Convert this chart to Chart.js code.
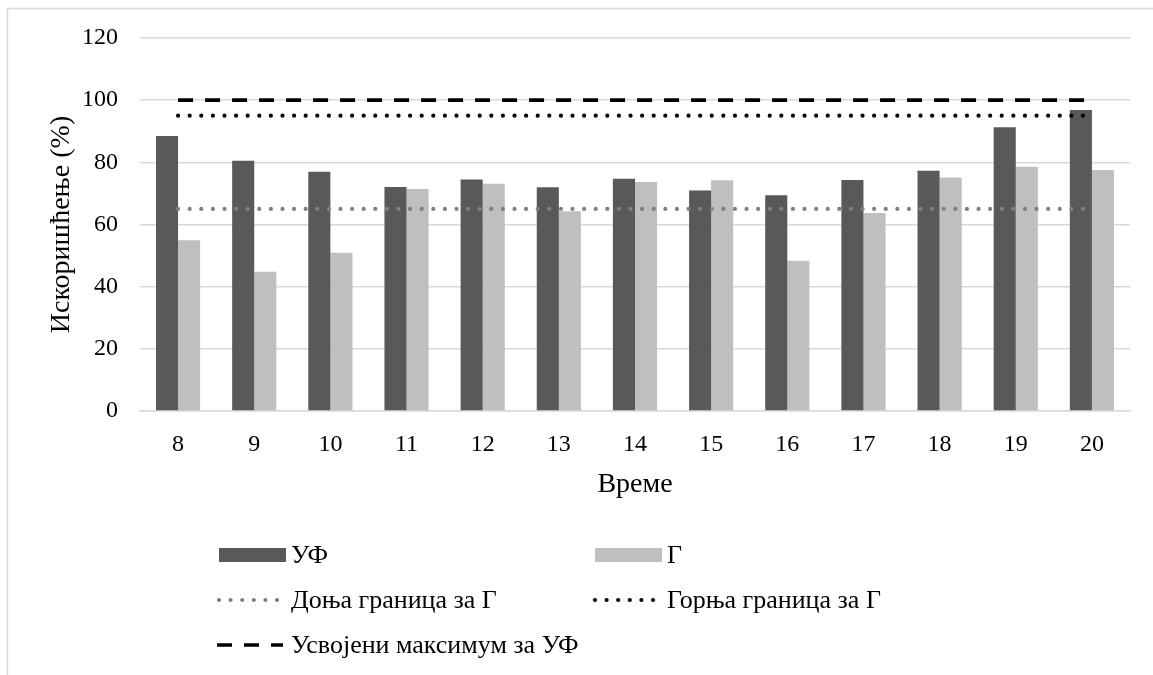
<!DOCTYPE html>
<html>
<head>
<meta charset="utf-8">
<script src="https://cdn.jsdelivr.net/npm/chart.js@4.4.1/dist/chart.umd.min.js"></script>
<style>
  html, body { margin: 0; padding: 0; background: #ffffff; }
  #wrap { position: relative; width: 1153px; height: 675px; overflow: hidden; }
  canvas { display: block; }
</style>
</head>
<body>
<div id="wrap"><canvas id="c" width="1153" height="675"></canvas></div>
<script>
// Hours of the day
const hours = ['8', '9', '10', '11', '12', '13', '14', '15', '16', '17', '18', '19', '20'];

// Utilisation (%) per hour
const ufValues = [88.5, 80.5, 77.0, 72.1, 74.5, 72.0, 74.7, 70.9, 69.4, 74.3, 77.3, 91.3, 96.8];
const gValues  = [54.9, 44.8, 50.9, 71.4, 73.1, 64.3, 73.7, 74.2, 48.3, 63.7, 75.1, 78.6, 77.5];

// Reference limits
const gLower = [65, 65, 65, 65, 65, 65, 65, 65, 65, 65, 65, 65, 65];
const gUpper = [95, 95, 95, 95, 95, 95, 95, 95, 95, 95, 95, 95, 95];
const ufMax  = [100, 100, 100, 100, 100, 100, 100, 100, 100, 100, 100, 100, 100];

const yTicks = [0, 20, 40, 60, 80, 100, 120];

const labels = {
  uf: 'УФ',
  g: 'Г',
  lower: 'Доња граница за Г',
  upper: 'Горња граница за Г',
  max: 'Усвојени максимум за УФ',
  x: 'Време',
  y: 'Искоришћење (%)'
};

const FONT = '"Liberation Serif", "Times New Roman", serif';
const FS_TICK = 24;
const FS_LEGEND = 26;
const FS_TITLE = 28;
const GRID = '#d9d9d9';

const dotStyle = { borderDash: [0.001, 11.6], borderCapStyle: 'round', borderWidth: 4.2 };

// Frame around the chart plus a two-column legend under the plot
const decorPlugin = {
  id: 'decor',
  beforeDraw(chart) {
    const ctx = chart.ctx;
    ctx.save();
    ctx.strokeStyle = GRID;
    ctx.lineWidth = 1.5;
    ctx.beginPath();
    ctx.moveTo(7.5, 675);
    ctx.lineTo(7.5, 8.5);
    ctx.lineTo(1153, 8.5);
    ctx.stroke();
    ctx.restore();
  },
  afterDraw(chart) {
    const ctx = chart.ctx;
    const ds = chart.data.datasets;
    const cols = [217, 593];
    const rows = [555, 600, 645];
    const place = [[0, 0], [1, 0], [0, 1], [1, 1], [0, 2]];
    ctx.save();
    ds.forEach((d, i) => {
      const [c, r] = place[i];
      const x = cols[c];
      const y = rows[r];
      if (d.type === 'bar') {
        ctx.fillStyle = d.backgroundColor;
        ctx.fillRect(x + 2, y - 7, 67, 14);
      } else {
        ctx.strokeStyle = d.borderColor;
        ctx.lineWidth = d.borderWidth;
        ctx.lineCap = d.borderCapStyle || 'butt';
        ctx.setLineDash(d.borderDash || []);
        ctx.beginPath();
        if (d.borderCapStyle === 'round') {
          ctx.moveTo(x + 2, y);
          ctx.lineTo(x + 62, y);
        } else {
          ctx.moveTo(x, y);
          ctx.lineTo(x + 66, y);
        }
        ctx.stroke();
        ctx.setLineDash([]);
      }
      ctx.fillStyle = '#000000';
      ctx.font = FS_LEGEND + 'px ' + FONT;
      ctx.textBaseline = 'middle';
      ctx.textAlign = 'left';
      ctx.fillText(d.label, x + 74, y + 1);
    });
    ctx.restore();
  }
};

new Chart(document.getElementById('c'), {
  data: {
    labels: hours,
    datasets: [
      { type: 'bar', label: labels.uf, data: ufValues, backgroundColor: '#595959', order: 2,
        categoryPercentage: 0.58, barPercentage: 1.0 },
      { type: 'bar', label: labels.g, data: gValues, backgroundColor: '#bfbfbf', order: 2,
        categoryPercentage: 0.58, barPercentage: 1.0 },
      Object.assign({ type: 'line', label: labels.lower, data: gLower, borderColor: '#808080',
        pointRadius: 0, fill: false, order: 1 }, dotStyle),
      Object.assign({ type: 'line', label: labels.upper, data: gUpper, borderColor: '#000000',
        pointRadius: 0, fill: false, order: 1 }, dotStyle),
      { type: 'line', label: labels.max, data: ufMax, borderColor: '#000000', borderWidth: 3.6,
        borderDash: [15, 12], borderCapStyle: 'butt', pointRadius: 0, fill: false, order: 1 }
    ]
  },
  options: {
    responsive: false,
    animation: false,
    devicePixelRatio: 1,
    layout: { padding: { left: 8, top: 38, right: 23, bottom: 174 } },
    plugins: { legend: { display: false }, tooltip: { enabled: false } },
    scales: {
      x: {
        grid: { display: false },
        border: { display: true, color: GRID, width: 1.5 },
        ticks: { color: '#000', font: { family: FONT, size: FS_TICK }, padding: 11, maxRotation: 0 },
        title: { display: true, text: labels.x, color: '#000', font: { family: FONT, size: FS_TITLE },
          padding: { top: 0, bottom: 0 } },
        afterFit(scale) { scale.height = 90; }
      },
      y: {
        min: 0, max: 120,
        afterBuildTicks(scale) { scale.ticks = yTicks.map(v => ({ value: v })); },
        grid: { color: GRID, lineWidth: 1.5, drawTicks: false },
        border: { display: false },
        ticks: { color: '#000', font: { family: FONT, size: FS_TICK }, padding: 22 },
        title: { display: true, text: labels.y, color: '#000', font: { family: FONT, size: FS_TITLE },
          padding: { top: 37, bottom: 0 } },
        afterFit(scale) { scale.width = 132; }
      }
    }
  },
  plugins: [decorPlugin]
});
</script>
</body>
</html>
